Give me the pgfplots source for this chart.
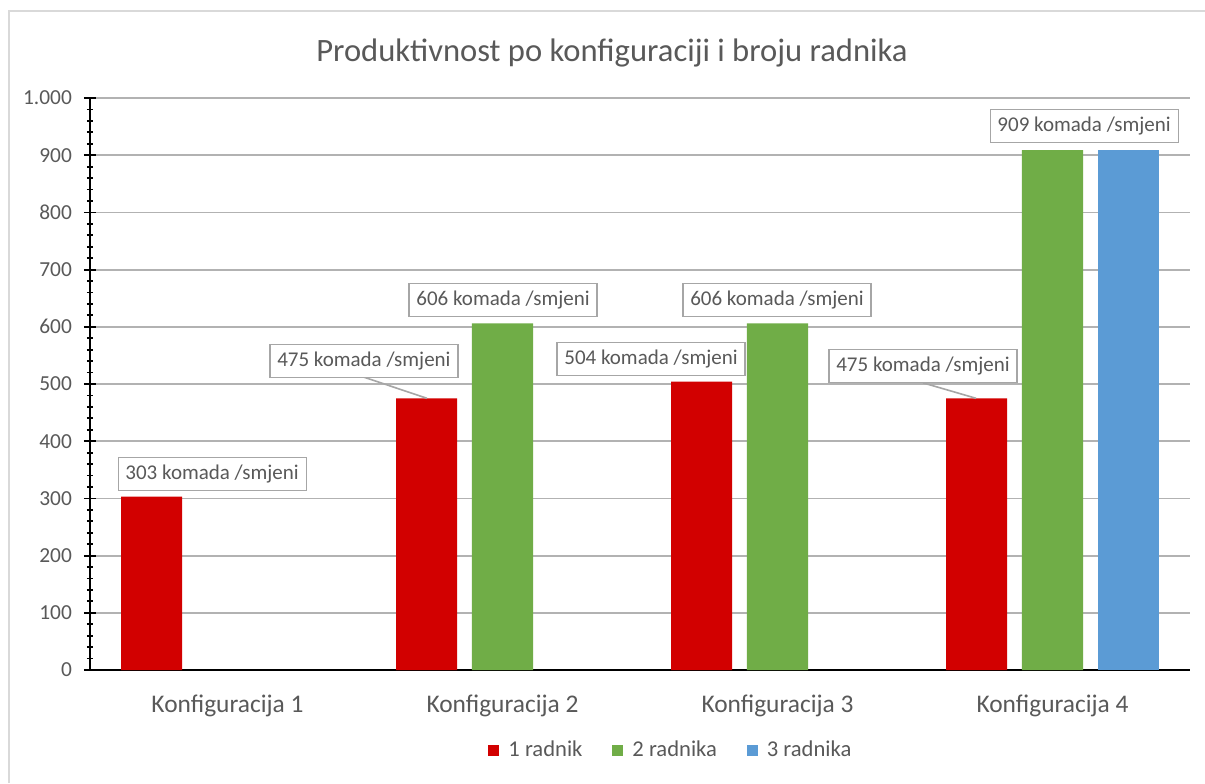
\documentclass[border=0pt]{standalone}
\usepackage{pgfplots}
\pgfplotsset{compat=1.18}
\usepackage{fontspec}
\setmainfont{Carlito}
\definecolor{cred}{RGB}{210,0,0}
\definecolor{cgreen}{RGB}{112,173,71}
\definecolor{cblue}{RGB}{91,155,213}
\definecolor{ctext}{RGB}{89,89,89}
\definecolor{cgrid}{RGB}{178,178,178}
\definecolor{cbox}{RGB}{166,166,166}
\definecolor{cframe}{RGB}{217,217,217}
\begin{document}
\begin{tikzpicture}
\useasboundingbox (0,0) rectangle (602.5pt,391.5pt);
\fill[white] (0,0) rectangle (602.5pt,391.5pt);
\draw[cframe, line width=1pt] (4.5pt,0) -- (4.5pt,386pt) -- (602.5pt,386pt);
\node[font=\fontsize{16.3}{19}\selectfont, text=ctext] at (306pt,365pt) {Produktivnost po konfiguraciji i broju radnika};
\begin{axis}[
  at={(45pt,56.5pt)}, anchor=south west,
  scale only axis, width=550pt, height=286pt,
  xmin=-0.5, xmax=3.5, ymin=0, ymax=1000,
  axis lines*=left,
  axis line style={black, line width=1pt},
  xtick={0,1,2,3},
  xticklabels={Konfiguracija 1,Konfiguracija 2,Konfiguracija 3,Konfiguracija 4},
  xtick style={draw=none},
  xticklabel style={font=\fontsize{12.7}{15}\selectfont, text=ctext, yshift=-3pt},
  ytick={0,100,...,1000},
  minor y tick num=4,
  tick align=center,
  major tick length=6pt, minor tick length=3pt,
  ytick style={black, line width=0.9pt},
  minor tick style={black, line width=0.9pt},
  yticklabel style={font=\fontsize{10.7}{12}\selectfont, text=ctext, xshift=-2.5pt},
  /pgf/number format/1000 sep={.},
  /pgf/number format/assume math mode=true,
  ymajorgrids,
  major grid style={cgrid, line width=0.9pt},
  ybar, bar shift=0pt, bar width=0.222,
  legend style={draw=none, at={(0.529,-0.14)}, anchor=center,
    legend columns=-1, font=\fontsize{11.3}{13}\selectfont, text=ctext,
    /tikz/every odd column/.append style={column sep=2.5pt},
    /tikz/every even column/.append style={column sep=13pt}},
  legend image code/.code={\fill[#1] (0pt,-2.75pt) rectangle (5.5pt,2.75pt);},
  clip=false,
]
\addplot[fill=cred, draw=none, bar shift=-0.276] coordinates {(0,303) (1,475) (2,504) (3,475)};
\addlegendentry{1 radnik}
\addplot[fill=cgreen, draw=none, bar shift=0] coordinates {(1,606) (2,606) (3,909)};
\addlegendentry{2 radnika}
\addplot[fill=cblue, draw=none, bar shift=0.276] coordinates {(3,909)};
\addlegendentry{3 radnika}
\tikzset{lbl/.style={draw=cbox, fill=white, line width=0.6pt, text=ctext,
  font=\fontsize{10.5}{12}\selectfont, minimum width=94pt, minimum height=16.5pt, inner sep=0pt}}
\draw[cbox, line width=0.8pt] (axis cs:0.496,512) -- (axis cs:0.725,475);
\draw[cbox, line width=0.8pt] (axis cs:2.529,502) -- (axis cs:2.722,475);
\node[lbl] at (axis cs:-0.056,343) {303 komada /smjeni};
\node[lbl] at (axis cs:0.496,540) {475 komada /smjeni};
\node[lbl] at (axis cs:1.002,647) {606 komada /smjeni};
\node[lbl] at (axis cs:1.540,544) {504 komada /smjeni};
\node[lbl] at (axis cs:1.998,647) {606 komada /smjeni};
\node[lbl] at (axis cs:2.529,531) {475 komada /smjeni};
\node[lbl] at (axis cs:3.115,951) {909 komada /smjeni};
\end{axis}
\end{tikzpicture}
\end{document}
